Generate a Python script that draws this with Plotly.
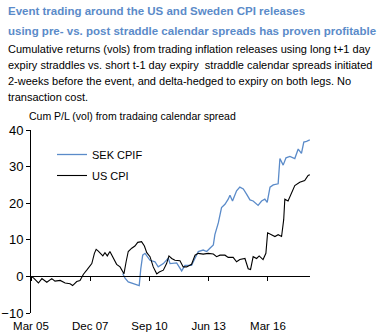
import plotly.graph_objects as go

# ---- data ----
us_dates = ["2005-03-03","2005-04-12","2005-07-05","2005-09-02","2005-11-24","2006-02-16","2006-04-12",
            "2006-07-09","2006-10-01","2006-12-24","2007-02-05","2007-04-16","2007-06-10","2007-08-07",
            "2007-10-12","2007-12-27","2008-02-09","2008-03-10","2008-04-15","2008-05-14","2008-07-01",
            "2008-08-06","2008-09-15","2008-10-29","2008-12-27","2009-02-20","2009-04-19","2009-06-02",
            "2009-06-24","2009-07-31","2009-09-05","2009-11-03","2009-12-27","2010-02-13","2010-04-19",
            "2010-06-06","2010-07-16","2010-09-09","2010-11-03","2011-01-01","2011-02-13","2011-04-23",
            "2011-06-17","2011-07-27","2011-09-12","2011-11-06","2012-01-30","2012-03-25","2012-05-22",
            "2012-08-14","2012-10-12","2012-12-05","2013-02-27","2013-05-22","2013-08-18","2013-10-12",
            "2013-12-09","2014-03-03","2014-04-27","2014-07-20","2014-09-16","2014-11-10","2015-02-05",
            "2015-04-01","2015-05-11","2015-06-24","2015-08-22","2015-10-04","2015-12-09","2016-01-26",
            "2016-02-24","2016-04-29","2016-06-27","2016-08-21","2016-10-18","2016-11-23","2016-12-12",
            "2017-02-05","2017-03-18","2017-05-30","2017-08-22","2017-11-14","2018-01-11","2018-02-09"]
us_cpi = [0.0,-0.4,-1.8,-0.6,-1.6,-0.6,-1.3,
          -1.1,-1.8,-2.0,-2.5,-1.4,-1.1,0.6,
          1.9,3.5,6.3,7.4,6.9,6.3,5.6,
          6.5,5.6,6.8,4.9,3.3,2.6,1.2,
          0.7,4.0,6.8,7.7,8.3,9.3,9.5,
          8.3,6.5,5.4,2.6,0.7,1.2,1.7,
          3.5,5.6,4.9,4.4,4.3,2.6,2.6,
          3.3,5.8,6.3,6.1,6.3,6.1,5.4,
          5.8,5.8,5.2,5.2,4.0,4.6,4.9,
          2.1,1.9,5.4,4.9,5.6,4.6,6.3,
          11.9,11.4,10.9,11.4,10.9,15.5,21.1,
          20.6,22.0,24.8,25.7,26.2,27.6,27.8]

sek_dates = ["2009-06-02","2009-07-13","2009-09-05","2009-11-03","2010-01-26","2010-03-10","2010-04-05",
             "2010-05-08","2010-06-17","2010-09-09","2010-12-02","2011-01-26","2011-04-23","2011-07-16",
             "2011-08-15","2011-12-05","2012-02-28","2012-04-23","2012-08-14","2012-11-06","2012-12-05",
             "2013-02-27","2013-04-27","2013-06-21","2013-08-18","2013-09-13","2013-11-10","2014-01-04",
             "2014-03-03","2014-04-27","2014-05-27","2014-07-09","2014-09-16","2014-11-10","2015-01-08",
             "2015-03-04","2015-05-01","2015-06-24","2015-09-16","2015-11-14","2016-01-08","2016-02-17",
             "2016-04-05","2016-05-30","2016-08-21","2016-09-20","2016-11-14","2017-01-01","2017-03-08",
             "2017-05-30","2017-07-27","2017-09-20","2017-10-30","2017-12-16","2018-02-09"]
sek_cpif = [0.8,-0.5,-1.5,-1.8,-2.2,-2.5,2.0,
            5.8,6.3,4.4,4.0,2.6,3.5,5.0,
            3.5,3.7,1.5,3.0,3.0,5.8,6.8,
            7.2,6.8,7.7,8.6,11.4,14.6,18.8,
            19.7,21.1,22.2,20.6,23.4,24.4,23.9,
            22.5,20.9,20.6,19.4,20.6,21.1,20.2,
            24.4,25.0,25.3,32.2,30.4,32.4,32.8,
            32.2,34.8,33.6,36.7,36.9,37.3]

tick_dates = ["2005-03-01", "2007-12-01", "2010-09-01", "2013-06-01", "2016-03-01"]
tick_labels = ["Mar 05", "Dec 07", "Sep 10", "Jun 13", "Mar 16"]
y_ticks = [-10, 0, 10, 20, 30, 40]

title_lines = ["Event trading around the US and Sweden CPI releases",
               "using pre- vs. post straddle calendar spreads has proven profitable"]
subtitle_lines = ["Cumulative returns (vols) from trading inflation releases using long t+1 day",
                  "expiry straddles vs. short t-1 day expiry  straddle calendar spreads initiated",
                  "2-weeks before the event, and delta-hedged to expiry on both legs. No",
                  "transaction cost."]
axis_title = "Cum P/L (vol) from tradaing calendar spread"

FONT = "Liberation Sans, Arial, sans-serif"
BLUE = "#5b8bc9"
x_range = ["2005-03-01", "2018-02-12"]
y_range = [-10, 40]

L, R, T, B = 31, 78, 130, 21
W, H = 388, 334
PW, PH = W - L - R, H - T - B


def px_x(px):
    return (px - L) / PW


def px_y(py):
    return (H - B - py) / PH


fig = go.Figure()
fig.add_trace(go.Scatter(x=sek_dates, y=sek_cpif, mode="lines", name="SEK CPIF", legendgroup="a",
                         line=dict(color=BLUE, width=1.3), xaxis="x", yaxis="y"))
fig.add_trace(go.Scatter(x=us_dates, y=us_cpi, mode="lines", name="US CPI", legendgroup="b",
                         line=dict(color="#000000", width=1.1), xaxis="x2", yaxis="y"))

annotations = []
for i, line in enumerate(title_lines):
    annotations.append(dict(text="<b>" + line + "</b>", xref="paper", yref="paper",
                            x=px_x(6), y=px_y(11 + 20 * i), xanchor="left", yanchor="middle",
                            showarrow=False, align="left",
                            font=dict(size=11.5, color=BLUE, family=FONT)))
for i, line in enumerate(subtitle_lines):
    annotations.append(dict(text=line, xref="paper", yref="paper",
                            x=px_x(6), y=px_y(49 + 16 * i), xanchor="left", yanchor="middle",
                            showarrow=False, align="left",
                            font=dict(size=11, color="#000", family=FONT)))
annotations.append(dict(text=axis_title, xref="paper", yref="paper", x=px_x(27), y=px_y(116),
                        xanchor="left", yanchor="middle", showarrow=False, align="left",
                        font=dict(size=10.5, color="#000", family=FONT)))

fig.update_layout(
    width=W, height=H,
    margin=dict(l=L, r=R, t=T, b=B),
    paper_bgcolor="white", plot_bgcolor="white",
    font=dict(family=FONT, size=12, color="#000"),
    showlegend=True,
    legend=dict(x=px_x(52), y=px_y(140), xanchor="left", yanchor="top",
                bgcolor="rgba(0,0,0,0)", font=dict(size=11, family=FONT),
                itemwidth=30, tracegroupgap=2),
    xaxis=dict(type="date", range=x_range, anchor="free",
               position=(0 - y_range[0]) / (y_range[1] - y_range[0]),
               showline=True, linecolor="#000", linewidth=1, automargin=False,
               tickmode="array", tickvals=tick_dates, showticklabels=False,
               ticks="outside", ticklen=4, tickcolor="#000", showgrid=False, zeroline=False),
    xaxis2=dict(type="date", range=x_range, matches="x", overlaying="x", anchor="y", side="bottom",
                showline=False, tickmode="array", tickvals=tick_dates, ticktext=tick_labels,
                ticks="", showgrid=False, zeroline=False, automargin=False,
                ticklabelstandoff=4,
                tickfont=dict(size=11.5, family=FONT)),
    yaxis=dict(range=y_range, tickmode="array", tickvals=y_ticks, automargin=False,
               showline=True, linecolor="#000", linewidth=1,
               ticks="outside", ticklen=4, tickcolor="#000",
               showgrid=False, zeroline=False, tickfont=dict(size=13, family=FONT)),
    annotations=annotations,
)

fig.write_html("out.html")
